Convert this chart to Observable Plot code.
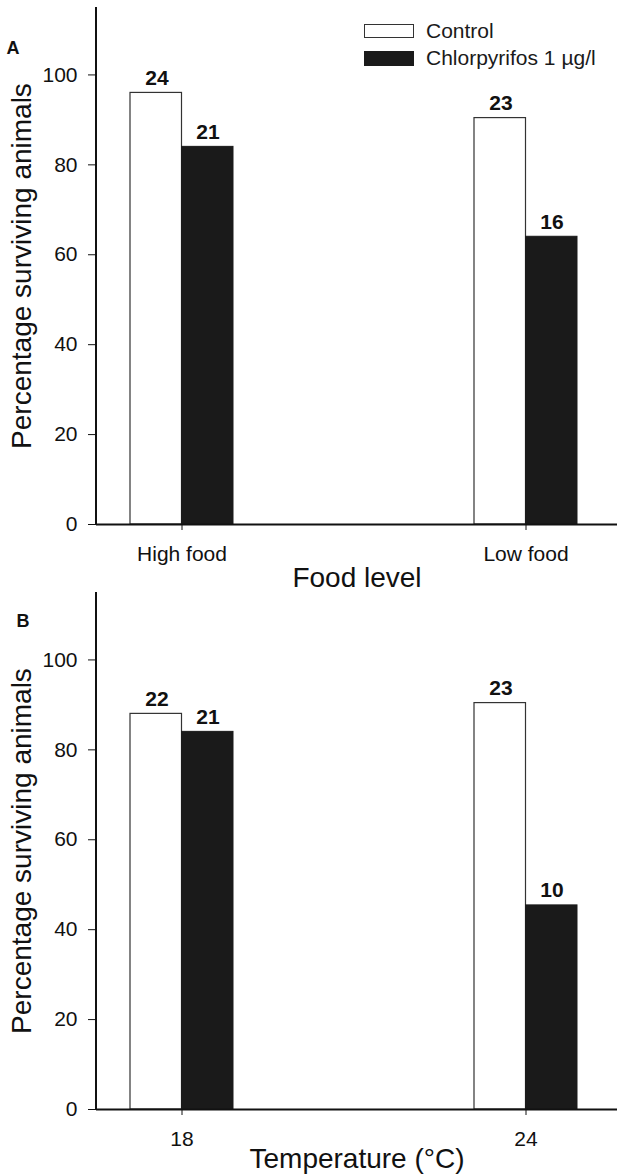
<!DOCTYPE html>
<html>
<head>
<meta charset="utf-8">
<script src="https://cdn.jsdelivr.net/npm/d3@7"></script>
<script src="https://cdn.jsdelivr.net/npm/@observablehq/plot@0.6"></script>
<style>
  html, body { margin: 0; padding: 0; background: #fff; }
  #wrap { position: relative; width: 620px; height: 1174px; font-family: "Liberation Sans", Arial, Helvetica, sans-serif; color: #111; }
  #wrap svg { display: block; overflow: visible; }
  .legend-row { position: absolute; display: flex; align-items: center; height: 18px; font-size: 21px; color: #1a1a1a; white-space: nowrap; }
  .legend-row .sw { width: 50px; box-sizing: border-box; margin-right: 12px; }
</style>
</head>
<body>
<div id="wrap"></div>
<script>
// ---- data ----
const seriesNames = ["Control", "Chlorpyrifos 1 µg/l"];
const seriesFill = ["#ffffff", "#1a1a1a"];
const seriesStroke = ["#333333", "#1a1a1a"];

const groupsA = ["High food", "Low food"];
const controlA = [96, 90.4];
const chlorA = [84, 64];
const nControlA = [24, 23];
const nChlorA = [21, 16];

const groupsB = ["18", "24"];
const controlB = [88, 90.4];
const chlorB = [84, 45.4];
const nControlB = [22, 23];
const nChlorB = [21, 10];

const yTicks = [0, 20, 40, 60, 80, 100];
const yTitle = "Percentage surviving animals";
const xTitleA = "Food level";
const xTitleB = "Temperature (°C)";
const FONT = '"Liberation Sans", Arial, Helvetica, sans-serif';

function rowsOf(groups, ctrl, chl, nC, nX) {
  const c = groups.map((g, i) => ({group: g, series: seriesNames[0], value: ctrl[i], n: nC[i]}));
  const x = groups.map((g, i) => ({group: g, series: seriesNames[1], value: chl[i], n: nX[i]}));
  return {c, x};
}

function yAxisLine(index, scales, values, dims) {
  const y = scales.y;
  const line = document.createElementNS("http://www.w3.org/2000/svg", "line");
  line.setAttribute("x1", dims.marginLeft);
  line.setAttribute("x2", dims.marginLeft);
  line.setAttribute("y1", y(115));
  line.setAttribute("y2", y(0));
  line.setAttribute("stroke", "#111");
  line.setAttribute("stroke-width", 2);
  return line;
}

function panel({groups, ctrl, chl, nC, nX, xTitle, tag, height, marginTop, marginBottom, tagDx, tagDy, titleDy}) {
  const {c, x} = rowsOf(groups, ctrl, chl, nC, nX);
  const half = 51.5;
  return Plot.plot({
    width: 620,
    height,
    marginLeft: 96,
    marginRight: 3,
    marginTop,
    marginBottom,
    style: {fontFamily: FONT, fontSize: "21px", background: "white", color: "#111", overflow: "visible"},
    x: {domain: groups, paddingInner: 0.701, paddingOuter: 0.107, align: 0.464, label: null},
    y: {domain: [0, 115], label: null},
    marks: [
      Plot.barY(c, {x: "group", y: "value", fill: seriesFill[0], stroke: seriesStroke[0], strokeWidth: 1.2, insetRight: half}),
      Plot.barY(x, {x: "group", y: "value", fill: seriesFill[1], stroke: seriesStroke[1], strokeWidth: 1, insetLeft: half}),
      Plot.ruleY([0], {stroke: "#111", strokeWidth: 2}),
      yAxisLine,
      Plot.axisY({ticks: yTicks, tickSize: 8, tickPadding: 11, fontSize: 21, label: null, stroke: "#111", fill: "#111"}),
      Plot.axisX({tickSize: 6, tickPadding: 16, fontSize: 21, label: null, stroke: "#111", fill: "#111"}),
      Plot.text(c, {x: "group", y: "value", text: "n", dx: -25, dy: -8, lineAnchor: "bottom", fontWeight: "bold", fontSize: 21, fill: "#111"}),
      Plot.text(x, {x: "group", y: "value", text: "n", dx: 26, dy: -8, lineAnchor: "bottom", fontWeight: "bold", fontSize: 21, fill: "#111"}),
      Plot.text([yTitle], {frameAnchor: "left", textAnchor: "middle", rotate: -90, dx: -74, fontSize: 28, fill: "#111"}),
      Plot.text([xTitle], {frameAnchor: "bottom", textAnchor: "middle", dy: titleDy, lineAnchor: "bottom", fontSize: 28, fill: "#111"}),
      Plot.text([tag], {frameAnchor: "top-left", textAnchor: "start", dx: tagDx, dy: tagDy, lineAnchor: "bottom", fontWeight: "bold", fontSize: 18, fill: "#111"})
    ]
  });
}

const wrap = document.getElementById("wrap");
wrap.appendChild(panel({
  groups: groupsA, ctrl: controlA, chl: chlorA, nC: nControlA, nX: nChlorA,
  xTitle: xTitleA, tag: "A", height: 590, marginTop: 7, marginBottom: 66,
  tagDx: -90, tagDy: 46, titleDy: 62
}));
wrap.appendChild(panel({
  groups: groupsB, ctrl: controlB, chl: chlorB, nC: nControlB, nX: nChlorB,
  xTitle: xTitleB, tag: "B", height: 584, marginTop: 2, marginBottom: 65,
  tagDx: -80, tagDy: 34, titleDy: 58
}));

// legend (inside panel A, top right)
const legendTops = [22, 49];
const swatchH = [14, 15];
seriesNames.forEach((name, i) => {
  const row = document.createElement("div");
  row.className = "legend-row";
  row.style.left = "364px";
  row.style.top = legendTops[i] + "px";
  const sw = document.createElement("span");
  sw.className = "sw";
  sw.style.height = swatchH[i] + "px";
  sw.style.background = seriesFill[i];
  sw.style.border = "1px solid " + seriesStroke[i];
  const t = document.createElement("span");
  t.textContent = name;
  row.appendChild(sw);
  row.appendChild(t);
  wrap.appendChild(row);
});
</script>
</body>
</html>
